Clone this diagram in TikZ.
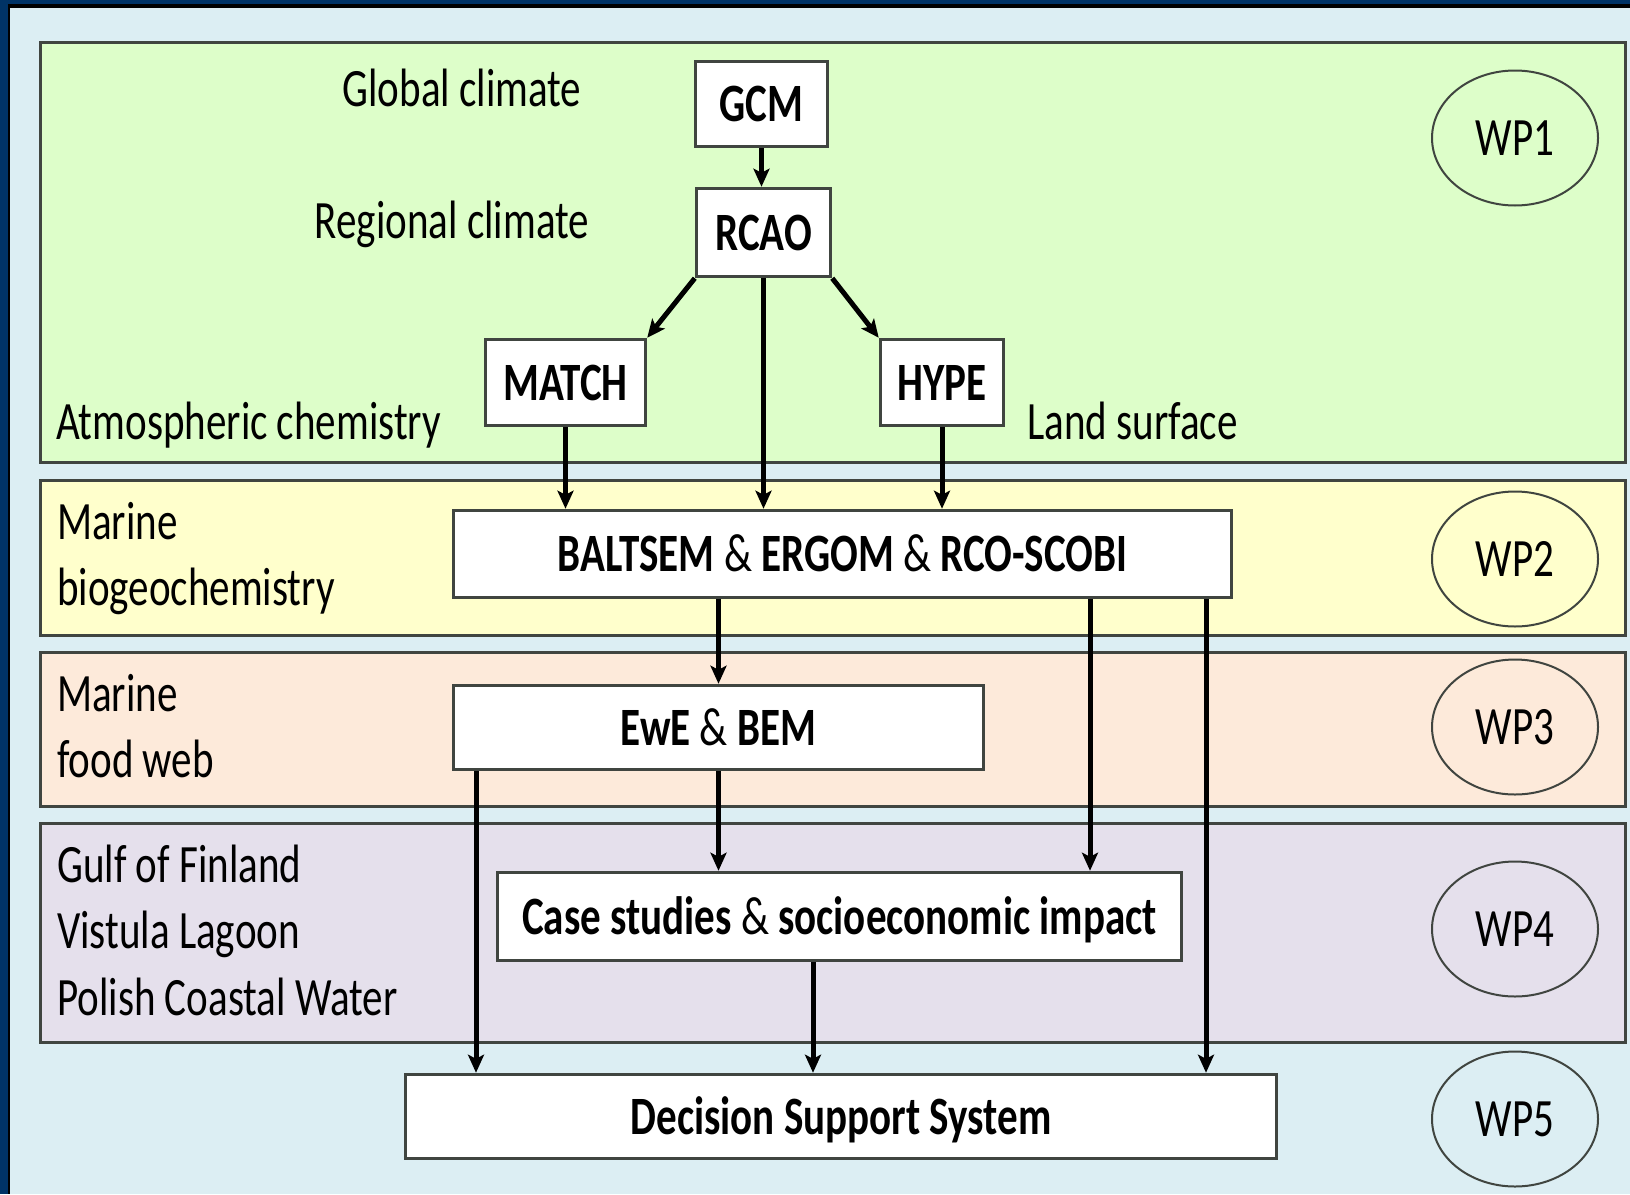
\documentclass[tikz,border=0pt]{standalone}
\usepackage{fontspec}
\setmainfont{Carlito}[FakeStretch=0.76]
\usepackage{tikz}
\usetikzlibrary{shapes.geometric,arrows.meta}

\definecolor{frameblue}{HTML}{003366}
\definecolor{paleblue}{HTML}{DCEEF3}
\definecolor{wpgreen}{HTML}{DDFEC9}
\definecolor{wpyellow}{HTML}{FFFFCC}
\definecolor{wporange}{HTML}{FDEADA}
\definecolor{wplilac}{HTML}{E5E0EC}
\definecolor{edgegray}{HTML}{404540}

\newcommand{\diagfont}{\fontsize{54}{66}\selectfont}

\tikzset{
  band/.style={draw=edgegray, line width=3pt},
  model/.style={draw=edgegray, line width=3.5pt, fill=white, inner sep=0pt,
    font=\diagfont\bfseries, text height=35pt, text depth=0pt},
  wp/.style={ellipse, draw=edgegray, line width=2pt, inner sep=0pt,
    minimum width=166pt, minimum height=135pt,
    font=\diagfont, text height=35pt, text depth=0pt},
  lbl/.style={inner sep=0pt, font=\diagfont},
  flow/.style={line width=5pt, -{Stealth[length=18pt,width=16pt,inset=4pt]}}
}

\begin{document}
\begin{tikzpicture}[x=1pt,y=-1pt]
\useasboundingbox (0,0) rectangle (1630,1194);

% frame and background
\fill[frameblue] (0,0) rectangle (1630,1194);
\fill[black] (8,4) rectangle (1630,1194);
\fill[paleblue] (10,8) rectangle (1630,1194);

% work package bands
\draw[band,fill=wpgreen] (40,42) rectangle (1625,462);
\draw[band,fill=wpyellow] (40,480) rectangle (1625,635);
\draw[band,fill=wporange] (40,652) rectangle (1625,806);
\draw[band,fill=wplilac] (40,823) rectangle (1625,1042);

% band labels
\node[lbl,anchor=base] (glob) at (462,106) {Global climate};
\node[lbl,anchor=base] (regio) at (452,238) {Regional climate};
\node[lbl,anchor=base west] (atmo) at (56,439) {Atmospheric chemistry};
\node[lbl,anchor=base west] (land) at (1027,439) {Land surface};
\node[lbl,anchor=base west] (mar1) at (57,539) {Marine};
\node[lbl,anchor=base west] (biogeo) at (57,605) {biogeochemistry};
\node[lbl,anchor=base west] (mar2) at (57,711) {Marine};
\node[lbl,anchor=base west] (food) at (57,777) {food web};
\node[lbl,anchor=base west] (gulf) at (57,882) {Gulf of Finland};
\node[lbl,anchor=base west] (vist) at (57,948) {Vistula Lagoon};
\node[lbl,anchor=base west] (pol) at (57,1015) {Polish Coastal Water};

% models
\node[model,minimum width=132pt,minimum height=85pt] (gcm) at (761.5,104) {GCM};
\node[model,minimum width=134pt,minimum height=88pt] (rcao) at (763.5,232.5) {RCAO};
\node[model,minimum width=160pt,minimum height=86pt] (match) at (565.5,382.5) {MATCH};
\node[model,minimum width=123pt,minimum height=86pt] (hype) at (942,382.5) {HYPE};
\node[model,minimum width=778pt,minimum height=87pt] (baltsem) at (842.5,554)
  {BALTSEM {\mdseries\&} ERGOM {\mdseries\&} RCO-SCOBI};
\node[model,minimum width=530pt,minimum height=84pt] (ewe) at (718.5,727.5)
  {EwE {\mdseries\&} BEM};
\node[model,minimum width=684pt,minimum height=88pt] (case) at (839.5,916.5)
  {Case studies {\mdseries\&} socioeconomic impact};
\node[model,minimum width=871pt,minimum height=84pt] (dss) at (841,1116.5)
  {Decision Support System};

% work packages
\node[wp] (wp1) at (1515,138) {WP1};
\node[wp] (wp2) at (1515,559) {WP2};
\node[wp] (wp3) at (1515,727) {WP3};
\node[wp] (wp4) at (1515,929) {WP4};
\node[wp] (wp5) at (1515,1119) {WP5};

% arrow columns
\coordinate (xcase) at (1090,0);
\coordinate (xright) at (1206,0);
\coordinate (xleft) at (476,0);
\coordinate (xmid) at (813,0);

% flows
\draw[flow] (gcm.south) -- (gcm.south |- rcao.north);
\draw[flow] (rcao.south west) -- (match.north east);
\draw[flow] (rcao.south east) -- (hype.north west);
\draw[flow] (rcao.south) -- (rcao.south |- baltsem.north);
\draw[flow] (match.south) -- (match.south |- baltsem.north);
\draw[flow] (hype.south) -- (hype.south |- baltsem.north);
\draw[flow] (ewe.north |- baltsem.south) -- (ewe.north);
\draw[flow] (baltsem.south -| xcase) -- (case.north -| xcase);
\draw[flow] (baltsem.south -| xright) -- (dss.north -| xright);
\draw[flow] (ewe.south) -- (ewe.south |- case.north);
\draw[flow] (ewe.south -| xleft) -- (dss.north -| xleft);
\draw[flow] (case.south -| xmid) -- (dss.north -| xmid);
\end{tikzpicture}
\end{document}
